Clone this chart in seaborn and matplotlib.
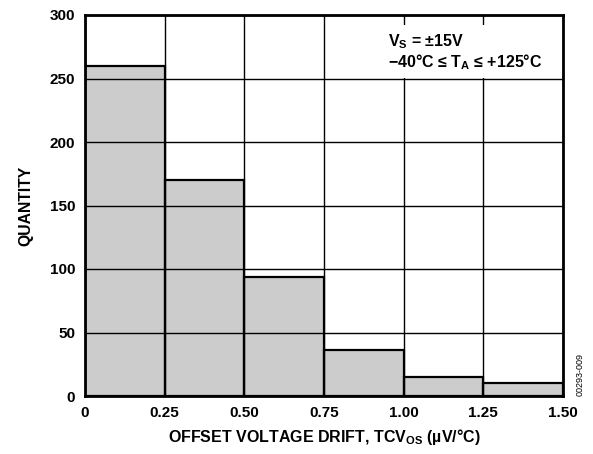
import numpy as np
import matplotlib
matplotlib.use("Agg")
import matplotlib.pyplot as plt
from matplotlib.patches import Rectangle
import seaborn as sns

# histogram bins and counts
bin_edges = [0, 0.25, 0.50, 0.75, 1.00, 1.25, 1.50]
counts = [260, 170, 94, 36, 15, 10]
x_ticks = [0, 0.25, 0.50, 0.75, 1.00, 1.25, 1.50]
x_tick_labels = ["0", "0.25", "0.50", "0.75", "1.00", "1.25", "1.50"]
y_ticks = [0, 50, 100, 150, 200, 250, 300]

centers = [(a + b) / 2 for a, b in zip(bin_edges[:-1], bin_edges[1:])]

sns.set_style("white")
plt.rcParams['font.family'] = ['Liberation Sans', 'DejaVu Sans']
plt.rcParams['text.color'] = 'black'
plt.rcParams['axes.labelcolor'] = 'black'
plt.rcParams['xtick.color'] = 'black'
plt.rcParams['ytick.color'] = 'black'
plt.rcParams['mathtext.fontset'] = 'custom'
plt.rcParams['mathtext.bf'] = 'Liberation Sans:bold'
plt.rcParams['mathtext.rm'] = 'Liberation Sans:bold'
plt.rcParams['mathtext.default'] = 'bf'

fig = plt.figure(figsize=(5.93, 4.54), dpi=100)
ax = fig.add_axes([85 / 593, 1 - 396 / 454, 478 / 593, 381 / 454])

sns.histplot(x=centers, weights=counts, bins=bin_edges, color='#cccccc',
             edgecolor='black', linewidth=1.6, alpha=1, ax=ax)

ax.set_xlim(0, 1.5)
ax.set_ylim(0, 300)
ax.set_xticks(x_ticks)
ax.set_xticklabels(x_tick_labels)
ax.set_yticks(y_ticks)
ax.set_axisbelow(False)
ax.grid(True, color='black', linewidth=1.0)
ax.tick_params(length=0, labelsize=11)
ax.tick_params(axis='x', pad=7)
ax.tick_params(axis='y', pad=7)
for lab in ax.get_xticklabels() + ax.get_yticklabels():
    lab.set_fontweight('bold')
for sp in ax.spines.values():
    sp.set_visible(True)
    sp.set_linewidth(2)
    sp.set_color('black')

ax.set_ylabel('QUANTITY', fontsize=11.3, fontweight='bold', labelpad=12)
ax.set_xlabel(r'OFFSET VOLTAGE DRIFT, TCV$_{OS}$ (µV/°C)', fontsize=11.5,
              fontweight='bold', labelpad=5)

# white patch behind the conditions note, hiding the grid there
ax.add_patch(Rectangle((0.626, 0.835), 0.364, 0.139, transform=ax.transAxes,
                       facecolor='white', edgecolor='none', zorder=4))
ax.text(0.951, 271, 'V$_S$ = ±15V\n−40°C ≤ T$_A$ ≤ +125°C', fontsize=11.5,
        fontweight='bold', va='center', ha='left', linespacing=1.1, zorder=5)

fig.text(580 / 593, 1 - 375 / 454, '00293-009', rotation=90, fontsize=6.5,
         ha='center', va='center')

fig.savefig('out.png', dpi=100)
